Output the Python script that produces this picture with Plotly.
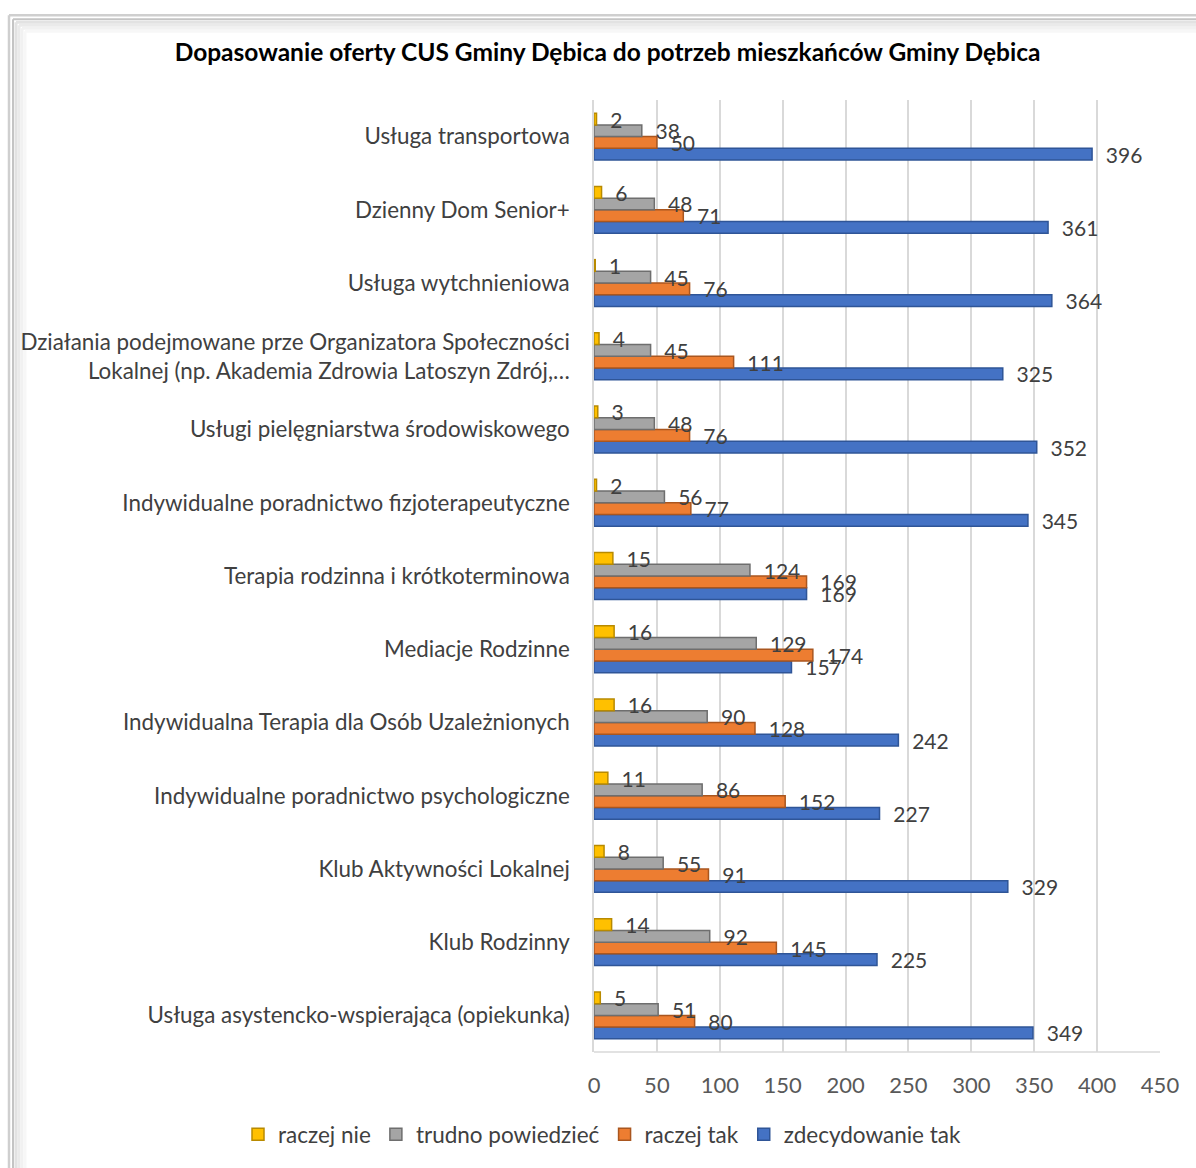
import plotly.graph_objects as go

categories = [
    "Usługa asystencko-wspierająca (opiekunka)",
    "Klub Rodzinny",
    "Klub Aktywności Lokalnej",
    "Indywidualne poradnictwo psychologiczne",
    "Indywidualna Terapia dla Osób Uzależnionych",
    "Mediacje Rodzinne",
    "Terapia rodzinna i krótkoterminowa",
    "Indywidualne poradnictwo fizjoterapeutyczne",
    "Usługi pielęgniarstwa środowiskowego",
    "Działania podejmowane prze Organizatora Społeczności<br>Lokalnej (np. Akademia Zdrowia Latoszyn Zdrój,…",
    "Usługa wytchnieniowa",
    "Dzienny Dom Senior+",
    "Usługa transportowa",
]
zdecydowanie_tak = [349, 225, 329, 227, 242, 157, 169, 345, 352, 325, 364, 361, 396]
raczej_tak = [80, 145, 91, 152, 128, 174, 169, 77, 76, 111, 76, 71, 50]
trudno_powiedziec = [51, 92, 55, 86, 90, 129, 124, 56, 48, 45, 45, 48, 38]
raczej_nie = [5, 14, 8, 11, 16, 16, 15, 2, 3, 4, 1, 6, 2]
x_ticks = [0, 50, 100, 150, 200, 250, 300, 350, 400, 450]

FONT = "Lato"
series = [
    ("zdecydowanie tak", zdecydowanie_tak, "#4472C4", "#2F5597"),
    ("raczej tak", raczej_tak, "#ED7D31", "#A9561F"),
    ("trudno powiedzieć", trudno_powiedziec, "#A5A5A5", "#6E6E6E"),
    ("raczej nie", raczej_nie, "#FFC000", "#B88A00"),
]

fig = go.Figure()
for name, vals, col, dark in series:
    fig.add_trace(go.Bar(
        y=categories, x=vals, name=name, orientation="h",
        marker=dict(color=col, line=dict(color=dark, width=1.5)),
        text=vals, texttemplate="\u00a0\u00a0%{x}", textposition="outside",
        constraintext="none", cliponaxis=False,
        textfont=dict(family=FONT, size=21, color="#404040"),
    ))

PW, PH = 566, 955


def px(x):
    return (x - 594) / PW


def py(y):
    return (1055 - y) / PH


frame = []
for off, col, w in [(0, "#CFCFCF", 2.5), (4, "#C4C4C4", 2), (7, "#E2E2E2", 3),
                    (10, "#EAEAEA", 3), (13, "#F1F1F1", 3), (16, "#F7F7F7", 3)]:
    x0, y0 = 9 + off, 15 + off
    frame.append(dict(type="line", xref="paper", yref="paper", layer="below",
                      x0=px(x0), x1=px(x0), y0=py(y0), y1=py(1200),
                      line=dict(color=col, width=w)))
    frame.append(dict(type="line", xref="paper", yref="paper", layer="below",
                      x0=px(x0), x1=px(1250), y0=py(y0), y1=py(y0),
                      line=dict(color=col, width=w)))
frame.append(dict(type="line", xref="paper", yref="paper",
                  x0=0, x1=1, y0=0, y1=0, line=dict(color="#D9D9D9", width=1.5)))

fig.update_layout(
    width=1196, height=1168,
    margin=dict(l=594, r=36, t=100, b=113),
    paper_bgcolor="white", plot_bgcolor="rgba(0,0,0,0)",
    barmode="group", bargap=0.36, bargroupgap=0,
    title=dict(text="<b>Dopasowanie oferty CUS Gminy Dębica do potrzeb mieszkańców Gminy Dębica</b>",
               x=0.508, xanchor="center", y=1 - 52 / 1168, yanchor="middle",
               font=dict(family=FONT, size=24.5, color="#000000")),
    font=dict(family=FONT, size=21, color="#404040"),
    xaxis=dict(range=[0, 450], tickvals=x_ticks, showgrid=True, gridcolor="#D9D9D9",
               gridwidth=1.5, zeroline=False, showline=False, ticklabelstandoff=18,
               tickfont=dict(family=FONT, size=22, color="#595959"), ticks="", ticklen=0),
    yaxis=dict(categoryorder="array", categoryarray=categories, showgrid=False,
               ticks="", ticklabelstandoff=18, showline=True, linecolor="#D9D9D9", linewidth=1.5,
               tickfont=dict(family=FONT, size=22.4, color="#404040")),
    legend=dict(orientation="h", traceorder="reversed",
                x=px(238), xanchor="left", y=-(1138 - 1055) / PH, yanchor="middle",
                font=dict(family=FONT, size=22.5, color="#404040"), itemwidth=30),
    showlegend=True,
    shapes=frame,
)
fig.write_html("out.html")
